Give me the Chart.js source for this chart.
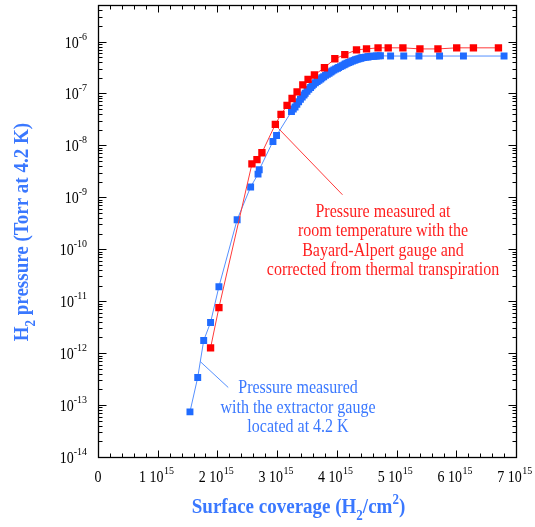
<!DOCTYPE html>
<html><head><meta charset="utf-8">
<script src="https://cdn.jsdelivr.net/npm/chart.js@4/dist/chart.umd.min.js"></script>
<style>html,body{margin:0;padding:0;background:#fff}</style>
</head><body>
<canvas id="c" width="535" height="527"></canvas>
<script>
// Surface coverage in units of 1e15 H2/cm2, pressure in Torr
const blueCoverage = [1.54,1.67,1.77,1.885,2.025,2.33,2.556,2.68,2.70,2.93,2.99,3.24,3.27,3.30,3.33,3.36,3.39,3.42,3.45,3.47,3.50,3.53,3.56,3.585,3.61,3.64,3.67,3.70,3.73,3.75,3.78,3.81,3.84,3.87,3.90,3.92,3.95,3.98,4.01,4.03,4.06,4.09,4.12,4.14,4.17,4.20,4.23,4.26,4.29,4.31,4.34,4.37,4.40,4.42,4.45,4.48,4.51,4.53,4.56,4.59,4.62,4.66,4.70,4.73,4.90,5.12,5.375,5.72,6.12,6.80];
const bluePressure = [7.4e-14,3.4e-13,1.75e-12,3.9e-12,1.9e-11,3.7e-10,1.58e-9,2.8e-9,3.4e-9,1.19e-8,1.55e-8,4.5e-8,5.0e-8,5.5e-8,6.2e-8,6.9e-8,7.7e-8,8.5e-8,9.3e-8,1.01e-7,1.1e-7,1.2e-7,1.3e-7,1.4e-7,1.5e-7,1.6e-7,1.7e-7,1.79e-7,1.9e-7,2.0e-7,2.1e-7,2.23e-7,2.34e-7,2.45e-7,2.58e-7,2.7e-7,2.82e-7,2.95e-7,3.06e-7,3.17e-7,3.28e-7,3.4e-7,3.55e-7,3.68e-7,3.82e-7,3.95e-7,4.08e-7,4.2e-7,4.33e-7,4.45e-7,4.55e-7,4.65e-7,4.75e-7,4.85e-7,4.93e-7,5.0e-7,5.05e-7,5.1e-7,5.15e-7,5.2e-7,5.22e-7,5.25e-7,5.28e-7,5.3e-7,5.25e-7,5.25e-7,5.25e-7,5.25e-7,5.25e-7,5.25e-7];
const redCoverage = [1.885,2.025,2.578,2.662,2.745,2.97,3.065,3.166,3.25,3.334,3.43,3.518,3.624,3.792,3.966,4.133,4.329,4.497,4.69,4.86,5.106,5.391,5.693,6.007,6.287,6.706];
const redPressure = [1.26e-12,7.5e-12,4.4e-9,5.3e-9,7.2e-9,2.54e-8,3.95e-8,5.9e-8,8.0e-8,1.07e-7,1.46e-7,1.87e-7,2.27e-7,3.13e-7,4.65e-7,5.6e-7,6.9e-7,7.2e-7,7.55e-7,7.55e-7,7.55e-7,7.2e-7,7.2e-7,7.55e-7,7.55e-7,7.55e-7];

const xTickValues = [0,1,2,3,4,5,6,7];
const xTickLabels = ['0','1 10','2 10','3 10','4 10','5 10','6 10','7 10'];
const xTickExps = ['','15','15','15','15','15','15','15'];
const yTickValues = [1e-14,1e-13,1e-12,1e-11,1e-10,1e-9,1e-8,1e-7,1e-6];
const yTickLabels = ['10','10','10','10','10','10','10','10','10'];
const yTickExps = ['-14','-13','-12','-11','-10','-9','-8','-7','-6'];

const xTitle = [['Surface coverage (H',0],['2',1],['/cm',0],['2',2],[')',0]];
const yTitle = [['H',0],['2',1],[' pressure (Torr at 4.2 K)',0]];
const redNote = ['Pressure measured at','room temperature with the','Bayard-Alpert gauge and','corrected from thermal transpiration'];
const blueNote = ['Pressure measured','with the extractor gauge','located at 4.2 K'];
// leader lines in data coordinates [coverage, pressure]
const redLeader = [[3.02,2.13e-8],[4.094,1.12e-9]];
const blueLeader = [[1.711,6.9e-13],[2.181,2.18e-13]];

const BLUE = '#1f6bff', BLUE_LINE = '#5590ff', BLUE_TEXT = '#3a78ff';
const RED = '#ff0000', RED_LINE = '#ff3a3a', RED_TEXT = '#ff1f1f';
const SERIF = '"Liberation Serif", "Times New Roman", serif';
const SY = 1.12; // slight vertical stretch of the original lettering

function drawStr(ctx, s, x, y, font, color, align) {
  ctx.save();
  ctx.font = font; ctx.fillStyle = color; ctx.textAlign = align || 'left'; ctx.textBaseline = 'alphabetic';
  ctx.translate(x, y); ctx.scale(1, SY);
  ctx.fillText(s, 0, 0);
  ctx.restore();
}
// rich text: parts [text, kind] kind 0 normal, 1 subscript, 2 superscript
function drawRich(ctx, parts, x, y, size, weight, color, align) {
  const fonts = parts.map(p => (weight + ' ' + (p[1] ? Math.round(size*0.68) : size) + 'px ' + SERIF));
  let w = 0; const ws = [];
  parts.forEach((p,i) => { ctx.font = fonts[i]; const m = ctx.measureText(p[0]).width; ws.push(m); w += m; });
  let cx = align === 'center' ? x - w/2 : (align === 'right' ? x - w : x);
  parts.forEach((p,i) => {
    const dy = p[1] === 1 ? size*0.42 : (p[1] === 2 ? -size*0.45 : 0);
    drawStr(ctx, p[0], cx, y + dy, fonts[i], color, 'left');
    cx += ws[i];
  });
}

const framePlugin = {
  id: 'frame',
  beforeDatasetsDraw(chart) {
    const ctx = chart.ctx, a = chart.chartArea, xs = chart.scales.x, ys = chart.scales.y;
    ctx.save();
    ctx.lineWidth = 1;
    ctx.strokeStyle = RED_LINE;
    ctx.beginPath();
    ctx.moveTo(xs.getPixelForValue(redLeader[0][0]), ys.getPixelForValue(redLeader[0][1]));
    ctx.lineTo(xs.getPixelForValue(redLeader[1][0]), ys.getPixelForValue(redLeader[1][1]));
    ctx.stroke();
    ctx.strokeStyle = BLUE_LINE;
    ctx.beginPath();
    ctx.moveTo(xs.getPixelForValue(blueLeader[0][0]), ys.getPixelForValue(blueLeader[0][1]));
    ctx.lineTo(xs.getPixelForValue(blueLeader[1][0]), ys.getPixelForValue(blueLeader[1][1]));
    ctx.stroke();
    const L = Math.round(a.left)+0.5, R = Math.round(a.right)+0.5, T = Math.round(a.top)+0.5, B = Math.round(a.bottom)+0.5;
    ctx.strokeStyle = '#000'; ctx.lineWidth = 1.3;
    ctx.strokeRect(L, T, R-L, B-T);
    ctx.lineWidth = 1;
    ctx.beginPath();
    for (let k = 0; k <= 35; k++) {
      const v = k*0.2;
      const px = Math.round(xs.getPixelForValue(v))+0.5;
      const len = (k % 5 === 0) ? 7 : 4;
      ctx.moveTo(px, B); ctx.lineTo(px, B-len);
      ctx.moveTo(px, T); ctx.lineTo(px, T+len);
    }
    for (let d = -14; d <= -6; d++) {
      for (let m = 1; m <= 9; m++) {
        const v = m*Math.pow(10,d);
        if (v > ys.max*1.0001) continue;
        const py = Math.round(ys.getPixelForValue(v))+0.5;
        const len = m === 1 ? 8 : 4;
        ctx.moveTo(L, py); ctx.lineTo(L+len, py);
        ctx.moveTo(R, py); ctx.lineTo(R-len, py);
      }
    }
    ctx.stroke();
    ctx.restore();
  },
  afterDraw(chart) {
    const ctx = chart.ctx, a = chart.chartArea, xs = chart.scales.x, ys = chart.scales.y;
    yTickValues.forEach((v,i) => {
      const py = ys.getPixelForValue(v);
      ctx.font = '10px ' + SERIF;
      const ew = ctx.measureText(yTickExps[i]).width;
      drawStr(ctx, yTickExps[i], 87, py - 2, '10px ' + SERIF, '#000', 'right');
      drawStr(ctx, yTickLabels[i], 87 - ew, py + 6, '14px ' + SERIF, '#000', 'right');
    });
    xTickValues.forEach((v,i) => {
      const px = xs.getPixelForValue(v);
      ctx.font = '14px ' + SERIF;
      const bw = ctx.measureText(xTickLabels[i]).width;
      ctx.font = '10px ' + SERIF;
      const ew = ctx.measureText(xTickExps[i]).width;
      const start = px - (bw + ew)/2 - (xTickExps[i] ? 1.5 : 0);
      drawStr(ctx, xTickLabels[i], start, a.bottom + 25, '14px ' + SERIF, '#000', 'left');
      if (xTickExps[i]) drawStr(ctx, xTickExps[i], start + bw + 0.5, a.bottom + 17, '10px ' + SERIF, '#000', 'left');
    });
    drawRich(ctx, xTitle, 298.5, 512.5, 19, 'bold', BLUE_TEXT, 'center');
    ctx.save();
    ctx.translate(27.5, (a.top + a.bottom)/2 + 1);
    ctx.rotate(-Math.PI/2);
    drawRich(ctx, yTitle, 0, 0, 19, 'bold', BLUE_TEXT, 'center');
    ctx.restore();
    redNote.forEach((s,i) => drawStr(ctx, s, 383, 216.5 + i*19.5, '16px ' + SERIF, RED_TEXT, 'center'));
    blueNote.forEach((s,i) => drawStr(ctx, s, 298, 393 + i*19.5, '16px ' + SERIF, BLUE_TEXT, 'center'));
  }
};

new Chart(document.getElementById('c'), {
  type: 'scatter',
  data: {
    datasets: [
      { label: 'Bayard-Alpert gauge', data: redCoverage.map((x,i) => ({x, y: redPressure[i]})),
        showLine: true, borderColor: RED_LINE, borderWidth: 1, backgroundColor: RED,
        pointStyle: 'rect', pointRadius: 5.2, pointBorderWidth: 0, pointBackgroundColor: RED },
      { label: 'Extractor gauge', data: blueCoverage.map((x,i) => ({x, y: bluePressure[i]})),
        showLine: true, borderColor: BLUE_LINE, borderWidth: 1, backgroundColor: BLUE,
        pointStyle: 'rect', pointRadius: 4.9, pointBorderWidth: 0, pointBackgroundColor: BLUE }
    ]
  },
  options: {
    responsive: false, animation: false, events: [],
    layout: { padding: { left: 98, right: 19, top: 3, bottom: 70 } },
    plugins: { legend: { display: false }, tooltip: { enabled: false } },
    elements: { line: { tension: 0 } },
    scales: {
      x: { type: 'linear', min: 0, max: 7, display: false },
      y: { type: 'logarithmic', min: 1e-14, max: 5e-6, display: false }
    }
  },
  plugins: [framePlugin]
});
</script>
</body></html>
